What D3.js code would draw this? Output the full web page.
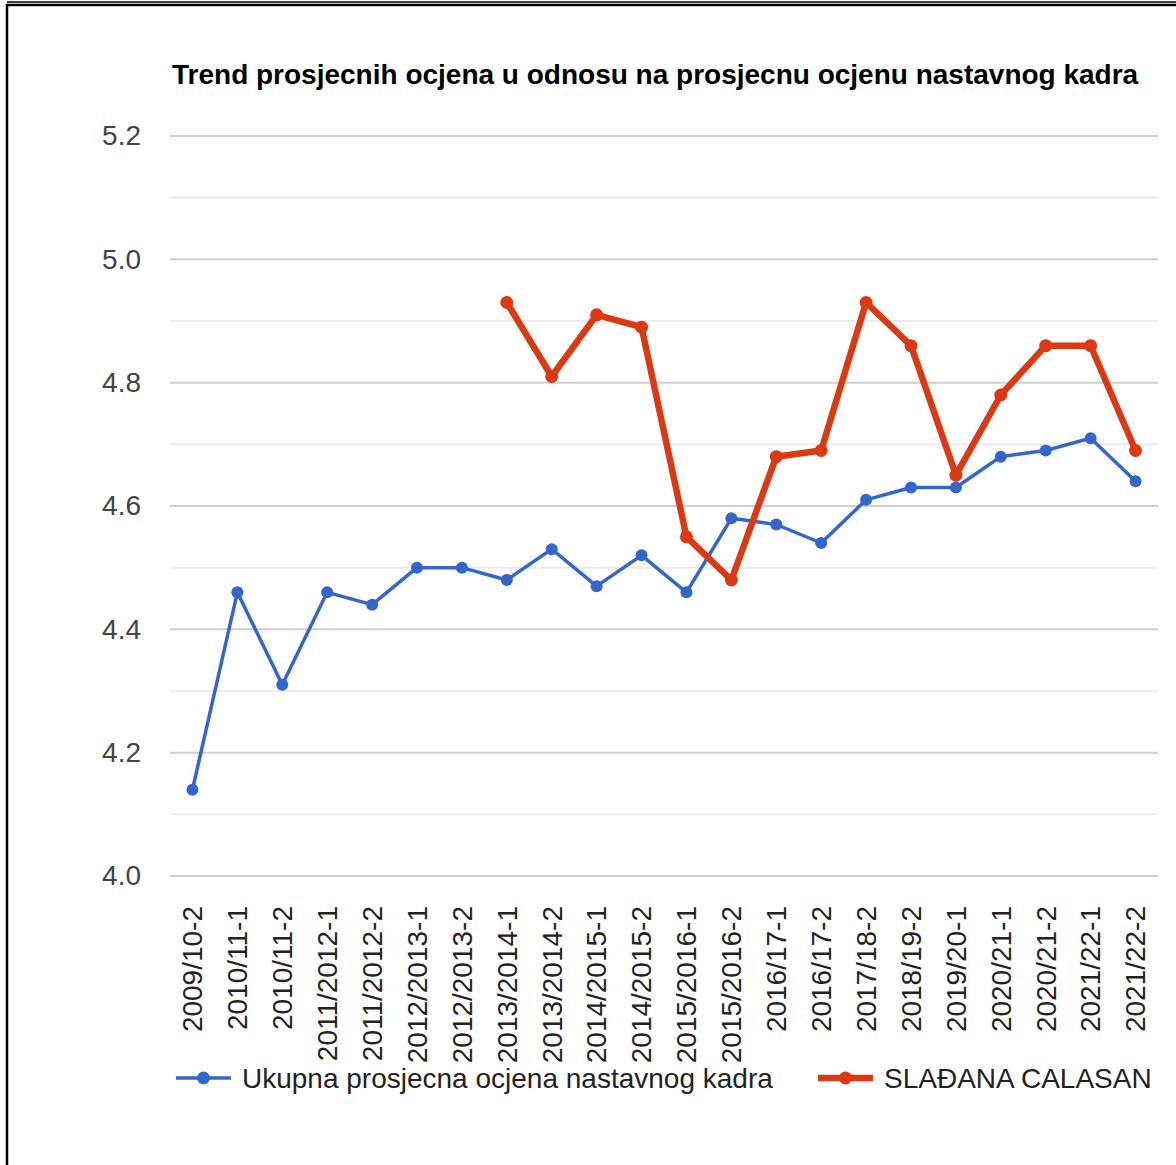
<!DOCTYPE html>
<html>
<head>
<meta charset="utf-8">
<script src="https://cdn.jsdelivr.net/npm/d3@7"></script>
<style>
  body { margin: 0; background: #fff; }
  svg { display: block; font-family: "Liberation Sans", Arial, sans-serif; }
</style>
</head>
<body>
<div id="chart"></div>
<script>
var categories = ["2009/10-2", "2010/11-1", "2010/11-2", "2011/2012-1", "2011/2012-2",
    "2012/2013-1", "2012/2013-2", "2013/2014-1", "2013/2014-2", "2014/2015-1",
    "2014/2015-2", "2015/2016-1", "2015/2016-2", "2016/17-1", "2016/17-2",
    "2017/18-2", "2018/19-2", "2019/20-1", "2020/21-1", "2020/21-2",
    "2021/22-1", "2021/22-2"];

var ukupnaValues = [4.14, 4.46, 4.31, 4.46, 4.44, 4.50, 4.50, 4.48, 4.53, 4.47,
    4.52, 4.46, 4.58, 4.57, 4.54, 4.61, 4.63, 4.63, 4.68, 4.69, 4.71, 4.64];

var sladanaValues = [null, null, null, null, null, null, null, 4.93, 4.81, 4.91,
    4.89, 4.55, 4.48, 4.68, 4.69, 4.93, 4.86, 4.65, 4.78, 4.86, 4.86, 4.69];

var yTicks = [4.0, 4.2, 4.4, 4.6, 4.8, 5.0, 5.2];
var yMinor = [4.1, 4.3, 4.5, 4.7, 4.9, 5.1];

var title = "Trend prosjecnih ocjena u odnosu na prosjecnu ocjenu nastavnog kadra";
var seriesNames = ["Ukupna prosjecna ocjena nastavnog kadra", "SLAĐANA CALASAN"];
var colors = ["#3366cc", "#dc3912"];

var width = 1176, height = 1165;
var plot = { left: 170, right: 1158, top: 136, bottom: 876 };

function translate(x, y){
    return "translate(" + x + "," + y + ")";
}

var svg = d3.select("#chart").append("svg")
    .attr("width", width)
    .attr("height", height);

// frame lines (screenshot border)
svg.append("line").attr("x1", 7).attr("x2", width).attr("y1", 2).attr("y2", 2)
    .attr("stroke", "#000").attr("stroke-width", 1.5);
svg.append("line").attr("x1", 6).attr("x2", width).attr("y1", 5).attr("y2", 5)
    .attr("stroke", "#000").attr("stroke-width", 2.5);
svg.append("line").attr("x1", 7).attr("x2", 7).attr("y1", 4).attr("y2", height)
    .attr("stroke", "#000").attr("stroke-width", 2.5);

var xScale = d3.scaleBand()
    .domain(categories)
    .range([plot.left, plot.right]);

var yScale = d3.scaleLinear()
    .domain([4.0, 5.2])
    .range([plot.bottom, plot.top]);

function xc(i){ return xScale(categories[i]) + xScale.bandwidth() / 2; }

// title
svg.append("text")
    .attr("x", 172)
    .attr("y", 84)
    .attr("font-size", 28)
    .attr("font-weight", "bold")
    .attr("fill", "#000")
    .text(title);

// gridlines
svg.append("g").selectAll("line")
    .data(yMinor)
    .enter().append("line")
    .attr("x1", plot.left).attr("x2", plot.right)
    .attr("y1", function(d){ return yScale(d); })
    .attr("y2", function(d){ return yScale(d); })
    .attr("stroke", "#ececec").attr("stroke-width", 2);

svg.append("g").selectAll("line")
    .data(yTicks)
    .enter().append("line")
    .attr("x1", plot.left).attr("x2", plot.right)
    .attr("y1", function(d){ return yScale(d); })
    .attr("y2", function(d){ return yScale(d); })
    .attr("stroke", "#cfcfcf").attr("stroke-width", 2);

// y axis labels
var yAxis = d3.axisLeft(yScale)
    .tickValues(yTicks)
    .tickFormat(d3.format(".1f"))
    .tickSize(0)
    .tickPadding(0);

svg.append("g")
    .attr("transform", translate(141, 0))
    .call(yAxis)
    .call(function(g){
        g.select(".domain").remove();
        g.selectAll("text")
            .attr("font-family", "Liberation Sans, Arial, sans-serif")
            .attr("font-size", 28)
            .attr("fill", "#444");
    });

// x axis labels
var xAxis = d3.axisBottom(xScale).tickSize(0).tickPadding(0);
svg.append("g")
    .attr("transform", translate(0, 906))
    .call(xAxis)
    .call(function(g){
        g.select(".domain").remove();
        g.selectAll("text")
            .attr("font-family", "Liberation Sans, Arial, sans-serif")
            .attr("font-size", 28)
            .attr("fill", "#222")
            .attr("text-anchor", "end")
            .attr("dy", "0.35em")
            .attr("transform", "rotate(-90)");
    });

// series
var allSeries = [ukupnaValues, sladanaValues];
var widths = [3.5, 6.5];
var radii = [6, 6.5];

var line = d3.line()
    .defined(function(d){ return d != null; })
    .x(function(d, i){ return xc(i); })
    .y(function(d){ return yScale(d); });

allSeries.forEach(function(values, s){
    var g = svg.append("g");
    g.append("path")
        .datum(values)
        .attr("fill", "none")
        .attr("stroke", colors[s])
        .attr("stroke-width", widths[s])
        .attr("stroke-linejoin", "round")
        .attr("d", line);
    g.selectAll("circle")
        .data(values.map(function(v, i){ return { v: v, i: i }; })
            .filter(function(d){ return d.v != null; }))
        .enter().append("circle")
        .attr("cx", function(d){ return xc(d.i); })
        .attr("cy", function(d){ return yScale(d.v); })
        .attr("r", radii[s])
        .attr("fill", colors[s]);
});

// legend
var legendItems = [
    { x: 176, name: seriesNames[0], color: colors[0], w: 3.5 },
    { x: 818, name: seriesNames[1], color: colors[1], w: 6.5 }
];
var legend = svg.append("g").selectAll("g")
    .data(legendItems)
    .enter().append("g")
    .attr("transform", function(d){ return translate(d.x, 1078); });

legend.append("line")
    .attr("x1", 0).attr("x2", 55)
    .attr("stroke", function(d){ return d.color; })
    .attr("stroke-width", function(d){ return d.w; });
legend.append("circle")
    .attr("cx", 27.5).attr("r", 6.5)
    .attr("fill", function(d){ return d.color; });
legend.append("text")
    .attr("x", 66)
    .attr("dy", "0.35em")
    .attr("font-size", 28)
    .attr("fill", "#222")
    .text(function(d){ return d.name; });
</script>
</body>
</html>
